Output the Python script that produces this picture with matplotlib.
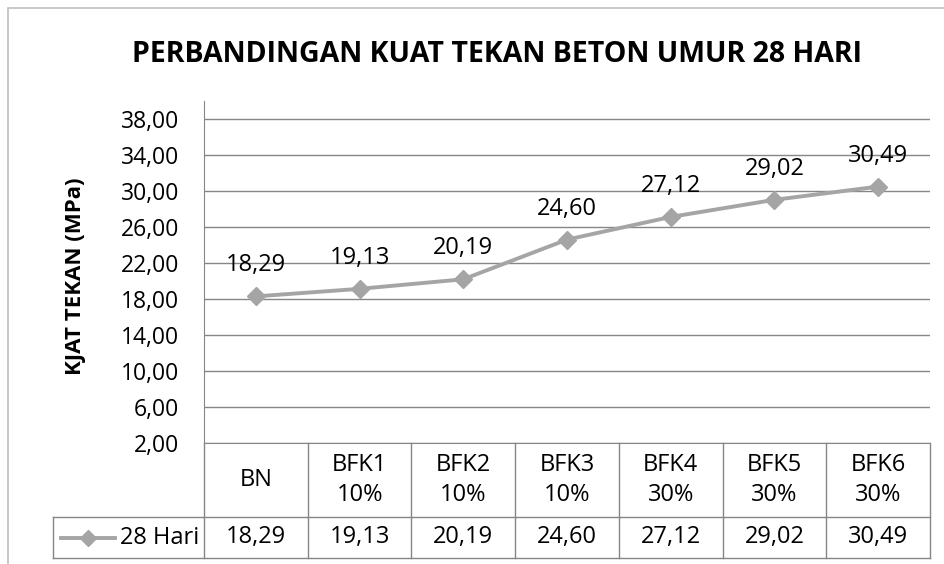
import numpy as np
import matplotlib.pyplot as plt
from matplotlib.lines import Line2D
from matplotlib.patches import Rectangle
from matplotlib.transforms import blended_transform_factory

# data
categories = ['BN', 'BFK1\n10%', 'BFK2\n10%', 'BFK3\n10%', 'BFK4\n30%', 'BFK5\n30%', 'BFK6\n30%']
kuat_tekan = [18.29, 19.13, 20.19, 24.60, 27.12, 29.02, 30.49]
y_ticks = [2, 6, 10, 14, 18, 22, 26, 30, 34, 38]
series_name = '28 Hari'
judul = 'PERBANDINGAN KUAT TEKAN BETON UMUR 28 HARI'
label_y = 'KJAT TEKAN (MPa)'

W, H = 945, 564
plt.rcParams['font.family'] = ['Open Sans', 'DejaVu Sans']
fig = plt.figure(figsize=(W / 100, H / 100), dpi=100)
fs = 17


def fx(x):
    return x / W


def fy(y):
    return 1 - y / H


def koma(v):
    return f'{v:.2f}'.replace('.', ',')


garis = '#A5A5A5'
grid = '#868686'

# bingkai chart (terpotong di kanan dan bawah)
fig.add_artist(Rectangle((fx(8), -0.2), 1.2, fy(8) + 0.2, fill=False,
                         edgecolor='#BFBFBF', lw=1.2, transform=fig.transFigure))

# area plot
ax = fig.add_axes([fx(204), fy(443), fx(930) - fx(204), fy(101) - fy(443)])
ax.set_xlim(-0.5, len(categories) - 0.5)
ax.set_ylim(2, 40)
ax.set_yticks(y_ticks)
ax.set_yticklabels([koma(v) for v in y_ticks], fontsize=16.5)
ax.set_xticks([])
ax.tick_params(axis='y', length=0, pad=18)
ax.yaxis.grid(True, color=grid, lw=1)
ax.set_axisbelow(True)
for s in ['top', 'right']:
    ax.spines[s].set_visible(False)
ax.spines['left'].set_color(grid)
ax.spines['bottom'].set_color(grid)

x = np.arange(len(categories))
ax.plot(x, kuat_tekan, color=garis, lw=2.8, marker='D', ms=9, clip_on=False)
for i, v in enumerate(kuat_tekan):
    ax.annotate(koma(v), (i, v), xytext=(0, 18), textcoords='offset points',
                ha='center', va='baseline', fontsize=fs)

fig.text(fx(497), fy(55), judul, ha='center', va='center', fontsize=20.5, weight='bold')
fig.text(fx(76), fy(276), label_y, ha='center', va='center', rotation=90,
         fontsize=16, weight='bold')

# tabel data di bawah sumbu
bt = blended_transform_factory(ax.transData, fig.transFigure)
y_top, y_mid, y_bot = 443, 517, 558
for b in np.arange(len(categories) + 1) - 0.5:
    fig.add_artist(Line2D([b, b], [fy(y_top), fy(y_bot)], color=grid, lw=1, transform=bt))
for yy in [y_mid, y_bot]:
    fig.add_artist(Line2D([fx(53), fx(930)], [fy(yy), fy(yy)], color=grid, lw=1,
                          transform=fig.transFigure))
fig.add_artist(Line2D([fx(53), fx(53)], [fy(y_mid), fy(y_bot)], color=grid, lw=1,
                      transform=fig.transFigure))

for i, (c, v) in enumerate(zip(categories, kuat_tekan)):
    fig.text(i, fy((y_top + y_mid) / 2), c, transform=bt, ha='center', va='center',
             multialignment='center', linespacing=1.3, fontsize=fs)
    fig.text(i, fy((y_mid + y_bot) / 2), koma(v), transform=bt, ha='center', va='center',
             fontsize=fs)

# kunci legenda
yl = fy((y_mid + y_bot) / 2)
fig.add_artist(Line2D([fx(61), fx(115)], [yl, yl], color=garis, lw=2.8,
                      transform=fig.transFigure))
fig.add_artist(Line2D([fx(88)], [yl], color=garis, marker='D', ms=8,
                      transform=fig.transFigure))
fig.text(fx(120), yl, series_name, ha='left', va='center', fontsize=fs)

fig.savefig('out.png', dpi=100)
